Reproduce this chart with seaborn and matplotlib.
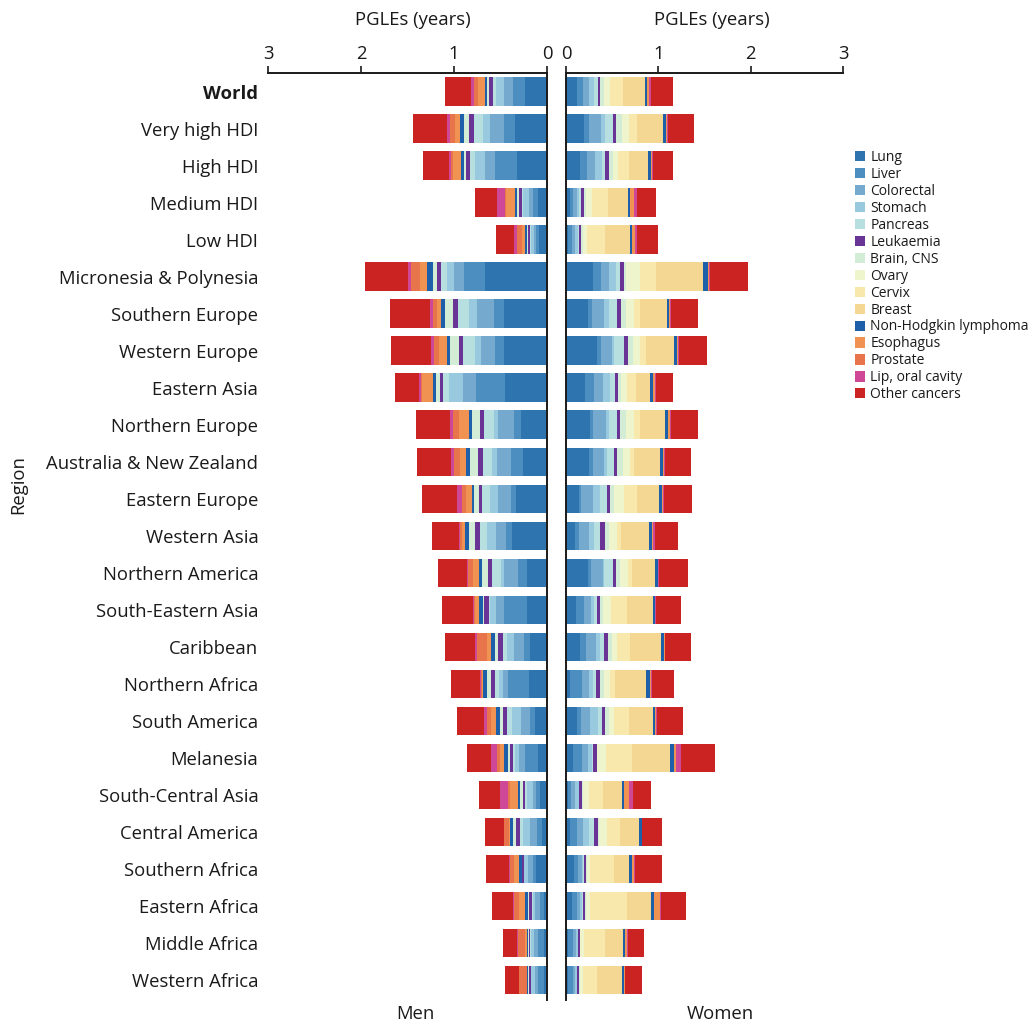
import numpy as np
import pandas as pd
import matplotlib
matplotlib.use("Agg")
import matplotlib.pyplot as plt
import seaborn as sns
from matplotlib.patches import Patch

sns.set_theme(style="white")
plt.rcParams["font.family"] = ["Open Sans", "DejaVu Sans"]

regions = [
    "World", "Very high HDI", "High HDI", "Medium HDI", "Low HDI",
    "Micronesia & Polynesia", "Southern Europe", "Western Europe", "Eastern Asia",
    "Northern Europe", "Australia & New Zealand", "Eastern Europe", "Western Asia",
    "Northern America", "South-Eastern Asia", "Caribbean", "Northern Africa",
    "South America", "Melanesia", "South-Central Asia", "Central America",
    "Southern Africa", "Eastern Africa", "Middle Africa", "Western Africa",
]

cancers = [
    "Lung", "Liver", "Colorectal", "Stomach", "Pancreas", "Leukaemia", "Brain, CNS",
    "Ovary", "Cervix", "Breast", "Non-Hodgkin lymphoma", "Esophagus", "Prostate",
    "Lip, oral cavity", "Other cancers",
]

palette = [
    "#2e75b0", "#4d8ec0", "#75aace", "#98c9de", "#b7dfe0", "#6a3396", "#d2ecd6",
    "#eef5cd", "#f8e8ab", "#f5d794", "#1d5fa8", "#ef9252", "#e7744a", "#cf4797",
    "#cb2222",
]

# Potential gains in life expectancy (years), men
men_lung = [0.233, 0.344, 0.326, 0.097, 0.082, 0.667, 0.466, 0.459, 0.452, 0.280, 0.262, 0.337, 0.376,
            0.219, 0.215, 0.183, 0.190, 0.129, 0.097, 0.072, 0.050, 0.118, 0.029, 0.036, 0.029]
men_liver = [0.133, 0.115, 0.233, 0.050, 0.036, 0.229, 0.108, 0.097, 0.312, 0.079, 0.125, 0.050, 0.065,
             0.097, 0.251, 0.068, 0.229, 0.054, 0.143, 0.043, 0.061, 0.036, 0.050, 0.065, 0.065]
men_colorectal = [0.100, 0.150, 0.104, 0.050, 0.025, 0.108, 0.179, 0.154, 0.136, 0.168, 0.150, 0.136, 0.108,
                  0.143, 0.082, 0.108, 0.054, 0.097, 0.057, 0.032, 0.072, 0.050, 0.047, 0.039, 0.039]
men_stomach = [0.079, 0.079, 0.111, 0.065, 0.030, 0.075, 0.082, 0.065, 0.158, 0.047, 0.050, 0.090, 0.100,
               0.036, 0.061, 0.072, 0.043, 0.100, 0.047, 0.072, 0.079, 0.039, 0.029, 0.032, 0.036]
men_pancreas = [0.040, 0.100, 0.054, 0.010, 0.010, 0.060, 0.125, 0.133, 0.065, 0.108, 0.100, 0.086, 0.068,
                0.100, 0.018, 0.047, 0.043, 0.054, 0.022, 0.018, 0.029, 0.007, 0.011, 0.007, 0.007]
men_leukaemia = [0.035, 0.047, 0.039, 0.032, 0.018, 0.047, 0.050, 0.043, 0.032, 0.036, 0.050, 0.032, 0.054,
                 0.036, 0.047, 0.047, 0.043, 0.040, 0.036, 0.022, 0.047, 0.014, 0.025, 0.014, 0.014]
men_brain = [0.025, 0.060, 0.030, 0.018, 0.010, 0.036, 0.082, 0.090, 0.036, 0.086, 0.086, 0.050, 0.072,
             0.068, 0.018, 0.036, 0.043, 0.036, 0.014, 0.029, 0.025, 0.007, 0.011, 0.007, 0.011]
men_nhl = [0.025, 0.040, 0.025, 0.025, 0.022, 0.065, 0.047, 0.036, 0.032, 0.040, 0.047, 0.025, 0.040,
           0.036, 0.040, 0.036, 0.040, 0.036, 0.050, 0.022, 0.036, 0.029, 0.032, 0.018, 0.014]
men_esophagus = [0.075, 0.057, 0.090, 0.093, 0.040, 0.079, 0.040, 0.082, 0.125, 0.097, 0.068, 0.060, 0.036,
                 0.057, 0.043, 0.050, 0.018, 0.054, 0.040, 0.093, 0.007, 0.050, 0.072, 0.018, 0.004]
men_prostate = [0.036, 0.050, 0.020, 0.015, 0.054, 0.097, 0.050, 0.054, 0.010, 0.072, 0.065, 0.047, 0.018,
                0.054, 0.014, 0.108, 0.011, 0.050, 0.032, 0.014, 0.054, 0.050, 0.054, 0.079, 0.079]
men_lip = [0.040, 0.032, 0.018, 0.082, 0.030, 0.036, 0.025, 0.032, 0.014, 0.032, 0.029, 0.050, 0.007,
           0.014, 0.011, 0.022, 0.011, 0.025, 0.065, 0.093, 0.007, 0.007, 0.007, 0.011, 0.007]
men_other = [0.276, 0.362, 0.280, 0.237, 0.194, 0.455, 0.437, 0.437, 0.258, 0.362, 0.366, 0.380, 0.297,
             0.315, 0.333, 0.315, 0.312, 0.297, 0.254, 0.226, 0.197, 0.254, 0.229, 0.147, 0.143]

# Potential gains in life expectancy (years), women
women_lung = [0.119, 0.199, 0.152, 0.047, 0.018, 0.296, 0.242, 0.339, 0.202, 0.256, 0.249, 0.137, 0.097,
              0.235, 0.108, 0.155, 0.043, 0.123, 0.072, 0.018, 0.047, 0.090, 0.061, 0.025, 0.018]
women_liver = [0.061, 0.050, 0.079, 0.032, 0.043, 0.083, 0.040, 0.040, 0.101, 0.040, 0.047, 0.025, 0.047,
               0.036, 0.090, 0.061, 0.134, 0.040, 0.105, 0.032, 0.069, 0.043, 0.058, 0.051, 0.054]
women_colorectal = [0.072, 0.130, 0.083, 0.040, 0.040, 0.090, 0.130, 0.116, 0.094, 0.141, 0.116, 0.134, 0.101,
                    0.126, 0.072, 0.108, 0.069, 0.101, 0.058, 0.047, 0.072, 0.036, 0.036, 0.032, 0.029]
women_stomach = [0.054, 0.047, 0.076, 0.025, 0.025, 0.072, 0.050, 0.029, 0.083, 0.032, 0.029, 0.076, 0.061,
                 0.018, 0.036, 0.047, 0.043, 0.079, 0.047, 0.040, 0.065, 0.018, 0.018, 0.018, 0.018]
women_pancreas = [0.036, 0.087, 0.036, 0.022, 0.014, 0.043, 0.090, 0.108, 0.050, 0.087, 0.083, 0.069, 0.058,
                  0.090, 0.029, 0.043, 0.032, 0.043, 0.007, 0.007, 0.047, 0.007, 0.007, 0.007, 0.004]
women_leukaemia = [0.029, 0.032, 0.036, 0.032, 0.022, 0.047, 0.040, 0.036, 0.029, 0.032, 0.032, 0.032, 0.054,
                   0.032, 0.036, 0.043, 0.043, 0.036, 0.043, 0.025, 0.043, 0.022, 0.025, 0.014, 0.018]
women_brain = [0.036, 0.058, 0.043, 0.018, 0.018, 0.014, 0.058, 0.061, 0.036, 0.061, 0.065, 0.051, 0.043,
               0.051, 0.025, 0.036, 0.043, 0.043, 0.007, 0.018, 0.011, 0.007, 0.007, 0.004, 0.007]
women_ovary = [0.072, 0.083, 0.054, 0.065, 0.043, 0.155, 0.090, 0.076, 0.061, 0.090, 0.076, 0.108, 0.090,
               0.079, 0.090, 0.058, 0.065, 0.058, 0.097, 0.065, 0.090, 0.032, 0.051, 0.040, 0.036]
women_cervix = [0.141, 0.087, 0.126, 0.177, 0.202, 0.173, 0.061, 0.061, 0.105, 0.058, 0.036, 0.137, 0.047,
                0.047, 0.173, 0.144, 0.061, 0.162, 0.282, 0.152, 0.144, 0.267, 0.401, 0.235, 0.155]
women_breast = [0.235, 0.274, 0.202, 0.209, 0.264, 0.516, 0.289, 0.307, 0.152, 0.274, 0.289, 0.242, 0.303,
                0.249, 0.278, 0.339, 0.336, 0.256, 0.412, 0.206, 0.206, 0.162, 0.256, 0.195, 0.264]
women_nhl = [0.025, 0.032, 0.029, 0.022, 0.029, 0.050, 0.029, 0.025, 0.025, 0.029, 0.029, 0.029, 0.032,
             0.029, 0.025, 0.029, 0.040, 0.025, 0.043, 0.022, 0.025, 0.029, 0.036, 0.022, 0.025]
women_esophagus = [0.018, 0.011, 0.011, 0.050, 0.025, 0.007, 0.007, 0.011, 0.025, 0.022, 0.007, 0.011, 0.014,
                   0.007, 0.007, 0.007, 0.014, 0.007, 0.022, 0.054, 0.004, 0.025, 0.065, 0.018, 0.007]
women_lip = [0.022, 0.011, 0.014, 0.029, 0.022, 0.011, 0.011, 0.011, 0.007, 0.011, 0.014, 0.011, 0.014,
             0.011, 0.007, 0.007, 0.004, 0.011, 0.051, 0.043, 0.004, 0.007, 0.007, 0.007, 0.007]
women_other = [0.238, 0.289, 0.213, 0.202, 0.235, 0.419, 0.289, 0.307, 0.184, 0.300, 0.285, 0.300, 0.249,
               0.307, 0.267, 0.278, 0.245, 0.278, 0.365, 0.191, 0.209, 0.300, 0.274, 0.173, 0.177]

none = [0.0] * len(regions)

men_parts = [men_lung, men_liver, men_colorectal, men_stomach, men_pancreas, men_leukaemia, men_brain,
             none, none, none, men_nhl, men_esophagus, men_prostate, men_lip, men_other]
women_parts = [women_lung, women_liver, women_colorectal, women_stomach, women_pancreas, women_leukaemia,
               women_brain, women_ovary, women_cervix, women_breast, women_nhl, women_esophagus, none,
               women_lip, women_other]

W, H = 1033, 1027
fig = plt.figure(figsize=(W / 100, H / 100), dpi=100)

top_px, bot_px = 73, 1000
ax_h = bot_px - top_px
ax_m = fig.add_axes([268 / W, 1 - bot_px / H, (547 - 268) / W, ax_h / H])
ax_w = fig.add_axes([566 / W, 1 - bot_px / H, (843 - 566) / W, ax_h / H])

INK = "#1a1a1a"
FS = 13.3


def stacked(ax, parts):
    cum = np.cumsum(np.array(parts), axis=0)
    # draw outermost cumulative first so inner segments sit on top
    for i in range(len(cancers) - 1, -1, -1):
        df = pd.DataFrame({"region": regions, "value": cum[i]})
        sns.barplot(data=df, x="value", y="region", order=regions, orient="h",
                    color=palette[i], saturation=1, width=0.78, linewidth=0, ax=ax)


stacked(ax_m, men_parts)
stacked(ax_w, women_parts)

label_y = 1 + (top_px - 20) / ax_h
for ax in (ax_m, ax_w):
    ax.set_ylim(24.54, -0.51)
    ax.xaxis.tick_top()
    ax.xaxis.set_label_position("top")
    ax.set_xticks([0, 1, 2, 3])
    ax.set_xticklabels(["0", "1", "2", "3"])
    ax.set_xlabel("PGLEs (years)", fontsize=FS, color=INK, va="center")
    ax.set_ylabel("")
    ax.tick_params(axis="x", which="both", direction="out", length=5, width=1.2,
                   color=INK, labelsize=FS, labelcolor=INK, pad=2,
                   top=True, bottom=False, labeltop=True, labelbottom=False)
    for s in ax.spines.values():
        s.set_color(INK)
        s.set_linewidth(1.4)
    ax.spines["bottom"].set_visible(False)
    ax.set_facecolor("none")

ax_m.set_xlim(3, 0)
ax_m.spines["left"].set_visible(False)
ax_m.tick_params(axis="y", length=0, pad=7, labelsize=FS, labelcolor=INK)
for lbl in ax_m.get_yticklabels():
    if lbl.get_text() == "World":
        lbl.set_fontweight("bold")
ax_m.xaxis.set_label_coords(0.52, label_y)

ax_w.set_xlim(0, 3)
ax_w.spines["right"].set_visible(False)
ax_w.set_yticks([])
ax_w.xaxis.set_label_coords(0.525, label_y)

fig.text(18 / W, 1 - 485 / H, "Region", rotation=90, ha="center", va="center", fontsize=FS, color=INK)
fig.text(415 / W, 1 - 1014 / H, "Men", ha="center", va="center", fontsize=FS, color=INK)
fig.text(720 / W, 1 - 1014 / H, "Women", ha="center", va="center", fontsize=FS, color=INK)

handles = [Patch(facecolor=c, edgecolor="none") for c in palette]
fig.legend(handles, cancers, loc="upper left", bbox_to_anchor=(855 / W, 1 - 150 / H),
           frameon=False, fontsize=10, handlelength=0.75, handleheight=0.75,
           handletextpad=0.35, labelspacing=0.14, borderaxespad=0, borderpad=0,
           labelcolor=INK)

fig.savefig("out.png", dpi=100)
